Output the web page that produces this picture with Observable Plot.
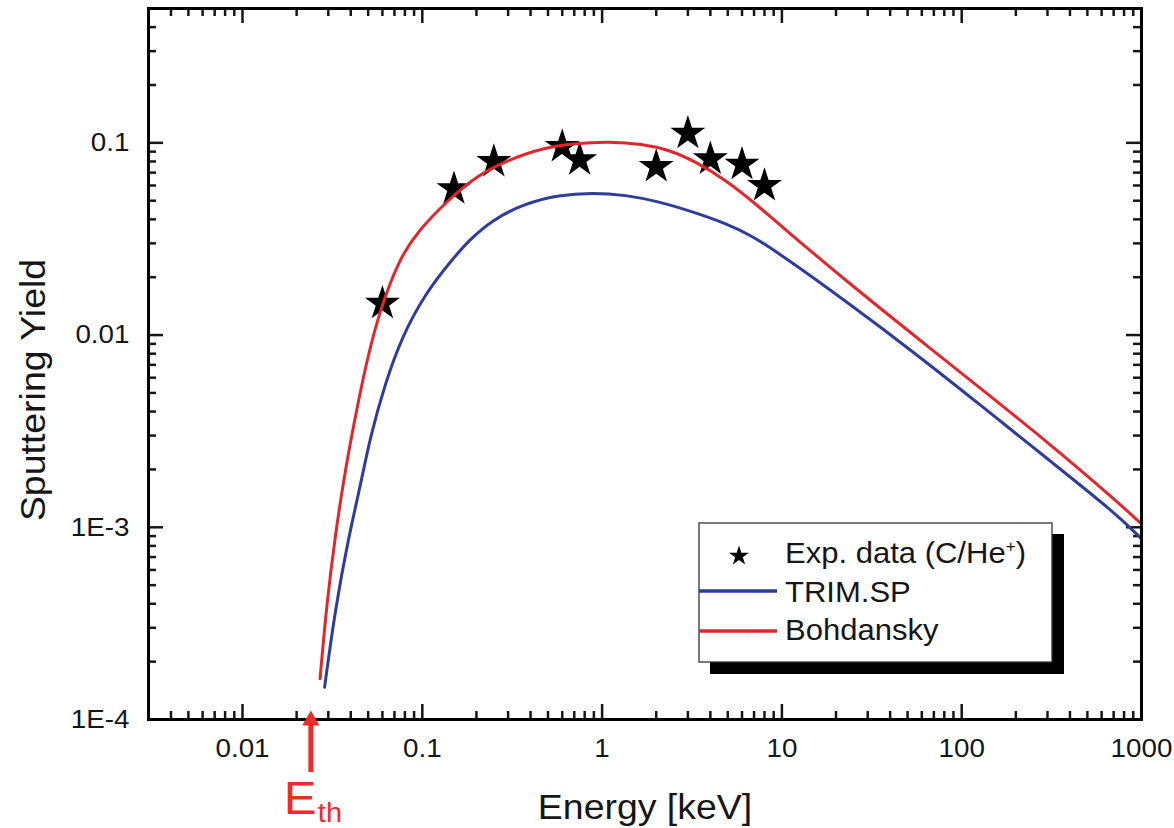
<!DOCTYPE html>
<html>
<head>
<meta charset="utf-8">
<script src="https://cdn.jsdelivr.net/npm/d3@7"></script>
<script src="https://cdn.jsdelivr.net/npm/@observablehq/plot@0.6"></script>
<style>
  html, body { margin: 0; padding: 0; background: #fff; }
  svg { display: block; }
</style>
</head>
<body>
<div id="chart"></div>
<script>
// Experimental sputtering yields of carbon by He+ ions
const expEnergy = [0.06, 0.15, 0.25, 0.6, 0.75, 2, 3, 4, 6, 8];
const expYield  = [0.0146, 0.0576, 0.0798, 0.0955, 0.0816, 0.0752, 0.112, 0.0824, 0.0773, 0.0599];

// TRIM.SP simulation curve
const trimEnergy = [0.0286, 0.0327, 0.0389, 0.0451, 0.0513, 0.0621, 0.077, 0.104, 0.146, 0.181, 0.244,
                    0.374, 0.574, 0.88, 1.35, 2.07, 3.17, 4.86, 6.84, 10, 23.6, 55.5, 131, 307, 721, 1000];
const trimYield  = [1.47e-4, 3.7e-4, 8.9e-4, 1.62e-3, 2.95e-3, 5.6e-3, 9.8e-3, 0.0165, 0.0246, 0.031, 0.0397,
                    0.0485, 0.0536, 0.0551, 0.0536, 0.0495, 0.0439, 0.0382, 0.0328, 0.026, 0.0146, 0.008, 0.00423, 0.00223, 0.00118, 8.7e-4];

// Bohdansky formula curve
const bohdEnergy = [0.027, 0.0294, 0.0327, 0.0372, 0.0438, 0.0502, 0.0583, 0.0738, 0.0954, 0.14, 0.197, 0.302,
                    0.463, 0.71, 1.09, 1.67, 2.35, 3.31, 4.86, 7.46, 10, 23.6, 55.5, 131, 307, 721, 1000];
const bohdYield  = [1.63e-4, 4.0e-4, 8.9e-4, 1.98e-3, 4.41e-3, 8.03e-3, 0.0135, 0.0246, 0.0352, 0.0505, 0.0668, 0.0815,
                    0.0938, 0.0996, 0.1016, 0.0988, 0.092, 0.0799, 0.0642, 0.0466, 0.0366, 0.0186, 0.0098, 0.00517, 0.00273, 0.00138, 1.04e-3];

// Threshold energy (keV)
const thresholdEnergy = 0.024;

// Axis ticks
const xTickValues = [0.01, 0.1, 1, 10, 100, 1000];
const xTickLabels = ["0.01", "0.1", "1", "10", "100", "1000"];
const yTickValues = [1e-4, 1e-3, 0.01, 0.1];
const yTickLabels = ["1E-4", "1E-3", "0.01", "0.1"];

const RED = "#e3262b";
const BLUE = "#2e3c9c";
const ARROW_RED = "#ef2b2b";
const FONT = "'Liberation Sans', Arial, Helvetica, sans-serif";

const expData = expEnergy.map((e, i) => ({e, y: expYield[i]}));
const trimData = trimEnergy.map((e, i) => ({e, y: trimYield[i]}));
const bohdData = bohdEnergy.map((e, i) => ({e, y: bohdYield[i]}));

// minor ticks: 2..9 times each power of ten inside the domains
const xMinor = [], yMinor = [];
for (let p = -3; p <= 2; p++) for (let m = 2; m <= 9; m++) {
  const v = m * Math.pow(10, p);
  if (v >= 0.003 && v < 1000) xMinor.push(v);
}
for (let p = -4; p <= -1; p++) for (let m = 2; m <= 9; m++) {
  const v = m * Math.pow(10, p);
  if (v <= 0.5) yMinor.push(v);
}

const W = 1174, H = 828;
const mL = 148, mR = 33, mT = 8, mB = 109;
const fw = W - mL - mR, fh = H - mT - mB;
const MAJ = 15, MIN = 8;

const plot = Plot.plot({
  width: W, height: H,
  marginLeft: mL, marginRight: mR, marginTop: mT, marginBottom: mB,
  x: {type: "log", domain: [0.003, 1000], label: null},
  y: {type: "log", domain: [1e-4, 0.5], label: null},
  style: {fontFamily: FONT, fontSize: "26px", color: "#161616", background: "#fff"},
  marks: [
    // inward ticks on all four sides
    Plot.ruleX(xTickValues, {insetTop: fh - MAJ, strokeWidth: 2.5}),
    Plot.ruleX(xTickValues, {insetBottom: fh - MAJ, strokeWidth: 2.5}),
    Plot.ruleX(xMinor, {insetTop: fh - MIN, strokeWidth: 2.5}),
    Plot.ruleX(xMinor, {insetBottom: fh - MIN, strokeWidth: 2.5}),
    Plot.ruleY(yTickValues, {insetRight: fw - MAJ, strokeWidth: 2.5}),
    Plot.ruleY(yTickValues, {insetLeft: fw - MAJ, strokeWidth: 2.5}),
    Plot.ruleY(yMinor, {insetRight: fw - MIN, strokeWidth: 2.5}),
    Plot.ruleY(yMinor, {insetLeft: fw - MIN, strokeWidth: 2.5}),
    Plot.axisX(xTickValues, {anchor: "bottom", tickSize: 0, tickPadding: 19, label: null,
      tickFormat: d => xTickLabels[xTickValues.indexOf(d)]}),
    Plot.axisY(yTickValues, {anchor: "left", tickSize: 0, tickPadding: 19, label: null,
      tickFormat: d => yTickLabels[yTickValues.indexOf(d)]}),
    // experimental points
    Plot.dot(expData, {x: "e", y: "y", symbol: "star", r: 11, fill: "#000", stroke: "none"}),
    // model curves
    Plot.line(trimData, {x: "e", y: "y", stroke: BLUE, strokeWidth: 3, curve: "basis"}),
    Plot.line(bohdData, {x: "e", y: "y", stroke: RED, strokeWidth: 3, curve: "basis"}),
    Plot.frame({stroke: "#000", strokeWidth: 3}),
    // axis titles
    Plot.text(["Energy [keV]"], {text: d => d, frameAnchor: "bottom", textAnchor: "middle", lineAnchor: "bottom",
      dy: 99, fontSize: 35}),
    Plot.text(["Sputtering Yield"], {text: d => d, frameAnchor: "left", textAnchor: "middle", rotate: -90,
      lineAnchor: "bottom", dx: -104, dy: 26, fontSize: 35}),
    // threshold energy marker
    Plot.ruleX([thresholdEnergy], {x: d => d, insetTop: fh + 6, insetBottom: -53, stroke: ARROW_RED, strokeWidth: 5}),
    Plot.dot([thresholdEnergy], {x: d => d, frameAnchor: "bottom", dy: 1, symbol: "triangle", r: 6.4,
      fill: ARROW_RED, stroke: "none"}),
    Plot.text(["E"], {x: () => thresholdEnergy, text: d => d, frameAnchor: "bottom", textAnchor: "start",
      lineAnchor: "bottom", dx: -27, dy: 94, fontSize: 46, fill: ARROW_RED, ariaLabel: "threshold-E"}),
    Plot.text(["th"], {x: () => thresholdEnergy, text: d => d, frameAnchor: "bottom", textAnchor: "start",
      lineAnchor: "bottom", dx: 7, dy: 102, fontSize: 27, fill: ARROW_RED, ariaLabel: "threshold-sub"})
  ]
});

// slightly wide lettering
const svg = d3.select(plot);
svg.selectAll("text").each(function () {
  const g = this.parentNode;
  const k = g && g.getAttribute("aria-label") === "threshold-E" ? 1.5 : 1.07;
  const t = this.getAttribute("transform") || "";
  this.setAttribute("transform", (t + ` scale(${k},1)`).trim());
});

// legend with drop shadow
const lg = svg.append("g").attr("font-family", FONT).attr("fill", "#161616").attr("text-anchor", "start");
lg.append("rect").attr("x", 710).attr("y", 534).attr("width", 354).attr("height", 140).attr("fill", "#000");
lg.append("rect").attr("x", 699).attr("y", 523).attr("width", 353).attr("height", 139)
  .attr("fill", "#fff").attr("stroke", "#333").attr("stroke-width", 1.3);
lg.append("path").attr("d", d3.symbol(d3.symbolStar, 124)()).attr("transform", "translate(739,556)").attr("fill", "#000");
const t1 = lg.append("text").attr("transform", "translate(785,563) scale(1.07,1)").attr("font-size", 29);
t1.append("tspan").text("Exp. data (C/He");
t1.append("tspan").attr("dy", -11).attr("font-size", 16).text("+");
t1.append("tspan").attr("dy", 11).text(")");
lg.append("line").attr("x1", 699).attr("x2", 777).attr("y1", 591).attr("y2", 591)
  .attr("stroke", BLUE).attr("stroke-width", 3.5);
lg.append("text").attr("transform", "translate(785,602) scale(1.07,1)").attr("font-size", 29).text("TRIM.SP");
lg.append("line").attr("x1", 699).attr("x2", 777).attr("y1", 631).attr("y2", 631)
  .attr("stroke", RED).attr("stroke-width", 3.5);
lg.append("text").attr("transform", "translate(785,640) scale(1.07,1)").attr("font-size", 29).text("Bohdansky");

document.getElementById("chart").appendChild(plot);
</script>
</body>
</html>
